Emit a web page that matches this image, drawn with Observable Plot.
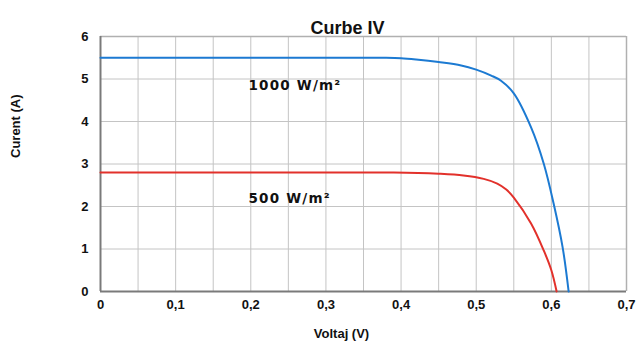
<!DOCTYPE html>
<html><head><meta charset="utf-8">
<script src="https://cdn.jsdelivr.net/npm/d3@7"></script>
<script src="https://cdn.jsdelivr.net/npm/@observablehq/plot@0.6"></script>
<style>body{margin:0;background:#fff}</style>
</head><body><div id="chart"></div>
<script>
const title = "Curbe IV";
const xLabel = "Voltaj (V)";
const yLabel = "Curent (A)";
const xTicks = [0, 0.1, 0.2, 0.3, 0.4, 0.5, 0.6, 0.7];
const xTickLabels = ["0", "0,1", "0,2", "0,3", "0,4", "0,5", "0,6", "0,7"];
const yTicks = [0, 1, 2, 3, 4, 5, 6];
const xGrid = [0.05, 0.1, 0.15, 0.2, 0.25, 0.3, 0.35, 0.4, 0.45, 0.5, 0.55, 0.6, 0.65];

const v1000 = [0, 0.1, 0.2, 0.3, 0.38, 0.4, 0.42, 0.45, 0.48, 0.5, 0.52, 0.533, 0.55, 0.573, 0.59, 0.603, 0.615, 0.623];
const i1000 = [5.5, 5.5, 5.5, 5.5, 5.5, 5.49, 5.46, 5.40, 5.32, 5.22, 5.08, 4.96, 4.66, 3.86, 3.0, 2.07, 1.04, 0];
const v500 = [0, 0.1, 0.2, 0.3, 0.39, 0.45, 0.483, 0.51, 0.528, 0.54, 0.55, 0.573, 0.59, 0.6, 0.607];
const i500 = [2.8, 2.8, 2.8, 2.8, 2.8, 2.77, 2.73, 2.65, 2.54, 2.40, 2.21, 1.6, 0.96, 0.5, 0];

const labels = [
  {text: "1000 W/m²", x: 0.197, y: 4.85},
  {text: "500 W/m²", x: 0.197, y: 2.19}
];

const s1000 = v1000.map((v, k) => ({v, i: i1000[k]}));
const s500 = v500.map((v, k) => ({v, i: i500[k]}));

const chart = Plot.plot({
  width: 637, height: 343,
  marginLeft: 100, marginRight: 11, marginTop: 36, marginBottom: 52,
  style: {fontFamily: "Liberation Sans, Arial, sans-serif", background: "#fff"},
  x: {domain: [0, 0.7]},
  y: {domain: [0, 6]},
  marks: [
    Plot.ruleX(xGrid, {stroke: "#c4c4c4", strokeWidth: 1}),
    Plot.ruleY(yTicks.slice(1), {stroke: "#c4c4c4", strokeWidth: 1}),
    Plot.ruleX([0.7], {stroke: "#b0b0b0", strokeWidth: 1.5}),
    Plot.ruleY([6], {stroke: "#b0b0b0", strokeWidth: 1.5}),
    Plot.ruleX([0], {stroke: "#7a7a7a", strokeWidth: 2}),
    Plot.ruleY([0], {stroke: "#7a7a7a", strokeWidth: 2}),
    Plot.line(s1000, {x: "v", y: "i", stroke: "#1c7ad2", strokeWidth: 2, curve: "catmull-rom"}),
    Plot.line(s500, {x: "v", y: "i", stroke: "#e2312b", strokeWidth: 2, curve: "catmull-rom"}),
    Plot.axisX(xTicks, {tickSize: 0, tickPadding: 8, tickFormat: (d, k) => xTickLabels[k], fontSize: 13, fontWeight: "bold", fill: "#111", label: null}),
    Plot.axisY(yTicks, {tickSize: 0, tickPadding: 12, fontSize: 13, fontWeight: "bold", fill: "#111", label: null}),
    Plot.text(labels, {x: "x", y: "y", text: "text", textAnchor: "start", fontFamily: "DejaVu Sans", fontWeight: "bold", fontSize: 13.5, fill: "#111", className: "irr"}),
    Plot.text([title], {frameAnchor: "top", dy: -15, dx: -16, fontSize: 18, fontWeight: "bold", fill: "#111"}),
    Plot.text([xLabel], {frameAnchor: "bottom", dy: 46, dx: -22, fontSize: 13, fontWeight: "bold", fill: "#111"}),
    Plot.text([yLabel], {frameAnchor: "left", dx: -85, dy: -6, rotate: -90, fontSize: 13, fontWeight: "bold", fill: "#111"})
  ]
});
chart.querySelectorAll(".irr text").forEach(t => t.setAttribute("letter-spacing", "1.2"));
document.getElementById("chart").append(chart);
</script>
</body></html>
